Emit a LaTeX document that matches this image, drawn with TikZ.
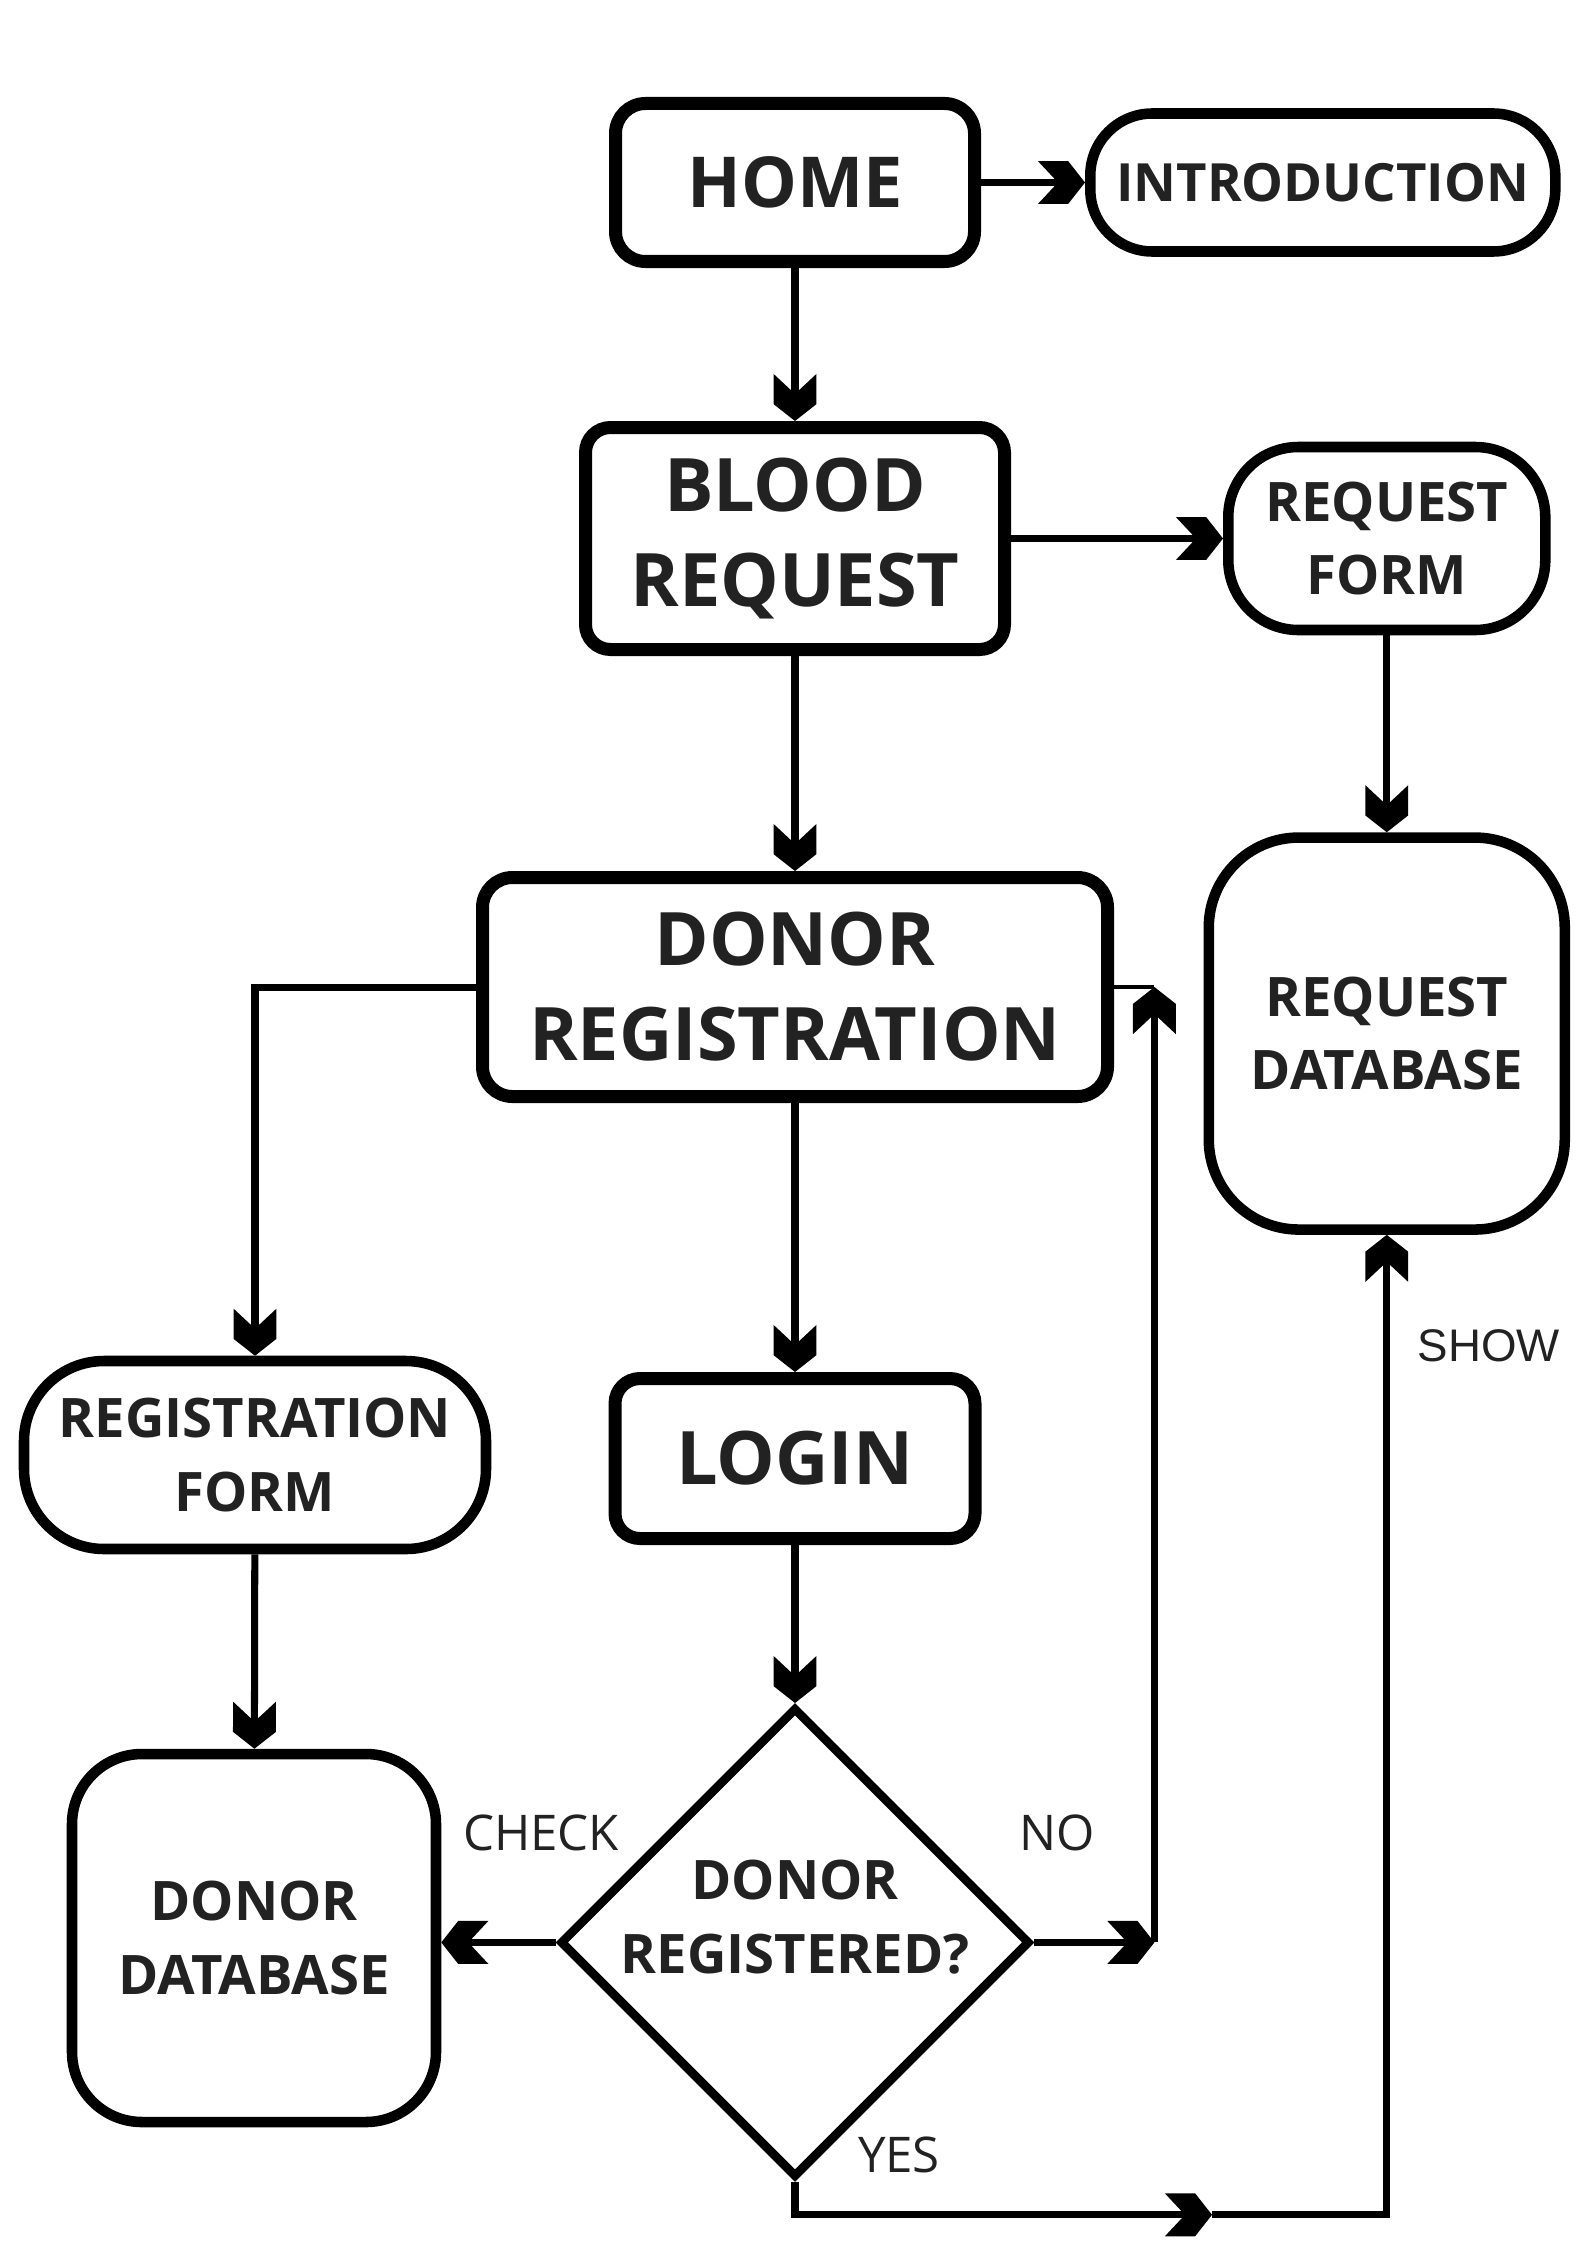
\documentclass[tikz,border=0pt]{standalone}
\usepackage{fontspec}
\setmainfont{Open Sans}
\newfontfamily\arialfont{Liberation Sans}
\usetikzlibrary{positioning,arrows.meta,shapes.geometric,calc}
\definecolor{inkgray}{RGB}{34,34,34}
% thick chevron head
\pgfdeclarearrow{
  name=Chevron,
  setup code={
    \pgfarrowssettipend{0pt}
    \pgfarrowssetlineend{-6pt}
    \pgfarrowssetvisualbackend{-13.4pt}
    \pgfarrowssetbackend{-13.4pt}
    \pgfarrowshullpoint{0pt}{0pt}
    \pgfarrowsupperhullpoint{-13.4pt}{6.1pt}
  },
  drawing code={
    \pgfpathmoveto{\pgfpointorigin}
    \pgfpathlineto{\pgfpoint{-4.8pt}{6.1pt}}
    \pgfpathlineto{\pgfpoint{-13.4pt}{6.1pt}}
    \pgfpathlineto{\pgfpoint{-7.7pt}{0pt}}
    \pgfpathlineto{\pgfpoint{-13.4pt}{-6.1pt}}
    \pgfpathlineto{\pgfpoint{-4.8pt}{-6.1pt}}
    \pgfpathclose
    \pgfusepathqfill
  },
}

\begin{document}
\begin{tikzpicture}[every node/.style={text=inkgray,align=center},
  mainbox/.style={draw=black,fill=white,rounded corners=.3cm,line width=3.7pt,font=\fontsize{21}{27}\selectfont\bfseries},
  sidebox/.style={draw=black,fill=white,rounded corners=.7cm,line width=3pt,font=\fontsize{15.5}{21}\selectfont\bfseries},
  decision/.style={draw=black,diamond,aspect=1,line width=2.5pt,inner sep=-6mm,minimum width=4.7cm,minimum height=4.7cm,text depth=.52cm,font=\fontsize{15.5}{21}\selectfont\bfseries},
  link/.style={line width=2pt,-Chevron},
  tag/.style={font=\fontsize{14}{16}\selectfont}]
  \path[use as bounding box,fill=white] (0,0) rectangle (15.88,-22.46);
  % top row and main column
  \node[mainbox,minimum width=3.59cm,minimum height=1.58cm,font=\fontsize{20}{26}\selectfont\bfseries] (home) at (7.95,-1.825) {HOME};
  \node[sidebox,minimum width=4.65cm,minimum height=1.38cm,rounded corners=.62cm,font=\fontsize{15}{20}\selectfont\bfseries,right=1.04cm of home] (intro) {INTRODUCTION};
  \node[mainbox,minimum width=4.19cm,minimum height=2.22cm,rounded corners=.25cm,below=1.53cm of home] (blood) {BLOOD\\REQUEST};
  \node[sidebox,minimum width=3.17cm,minimum height=1.83cm,right=2.12cm of blood] (reqform) {REQUEST\\FORM};
  \node[sidebox,minimum width=3.56cm,minimum height=3.92cm,rounded corners=.9cm,below=1.97cm of reqform] (reqdb) {REQUEST\\DATABASE};
  \node[mainbox,minimum width=6.25cm,minimum height=2.19cm,below=2.15cm of blood] (donreg) {DONOR\\REGISTRATION};
  \node[mainbox,minimum width=3.6cm,minimum height=1.6cm,rounded corners=.25cm,below=2.69cm of donreg] (login) {LOGIN};
  \node[decision,below=1.58cm of login] (check) {DONOR\\REGISTERED?};
  % left column
  \node[sidebox,minimum width=4.62cm,minimum height=1.88cm,rounded corners=.8cm] (regform) at (2.55,-14.55) {REGISTRATION\\FORM};
  \node[sidebox,minimum width=3.64cm,minimum height=3.68cm] (donordb) at (2.54,-19.38) {DONOR\\DATABASE};
  % edge labels
  \node[tag] (checklbl) at (5.41,-18.33) {CHECK};
  \node[tag] (nolbl) at (10.57,-18.33) {NO};
  \node[tag] (yeslbl) at (8.99,-21.55) {YES};
  \node[tag,font=\arialfont\fontsize{13}{15}\selectfont] (showlbl) at (14.89,-13.46) {SHOW};
  % turning points
  \coordinate (noturn) at ($(check.east)+(1.2,0)$);
  \coordinate (yesturn) at ($(check.south)+(0,-.33)$);
  \coordinate (yesmid) at (12.12,0 |- yesturn);
  \draw[link] (home) -- (intro);
  \draw[link] (home) -- (blood);
  \draw[link] (blood) -- (reqform);
  \draw[link] (reqform) -- (reqdb);
  \draw[link] (blood) -- (donreg);
  \draw[link] (donreg.west) -| (regform.north);
  \draw[link] (regform) -- (donordb);
  \draw[link] (donreg) -- (login);
  \draw[link] (login) -- (check);
  \draw[link] (check.west) -- (check.west -| donordb.east);
  \draw[link] (check.east) -- (noturn);
  \draw[link] (noturn) -- (noturn |- donreg.east);
  \draw[line width=1.1pt] (donreg.east) -- (noturn |- donreg.east);
  \draw[link] (check.south) -- (yesturn) -- (yesmid);
  \draw[link] (yesmid) -| (reqdb.south);
\end{tikzpicture}
\end{document}
